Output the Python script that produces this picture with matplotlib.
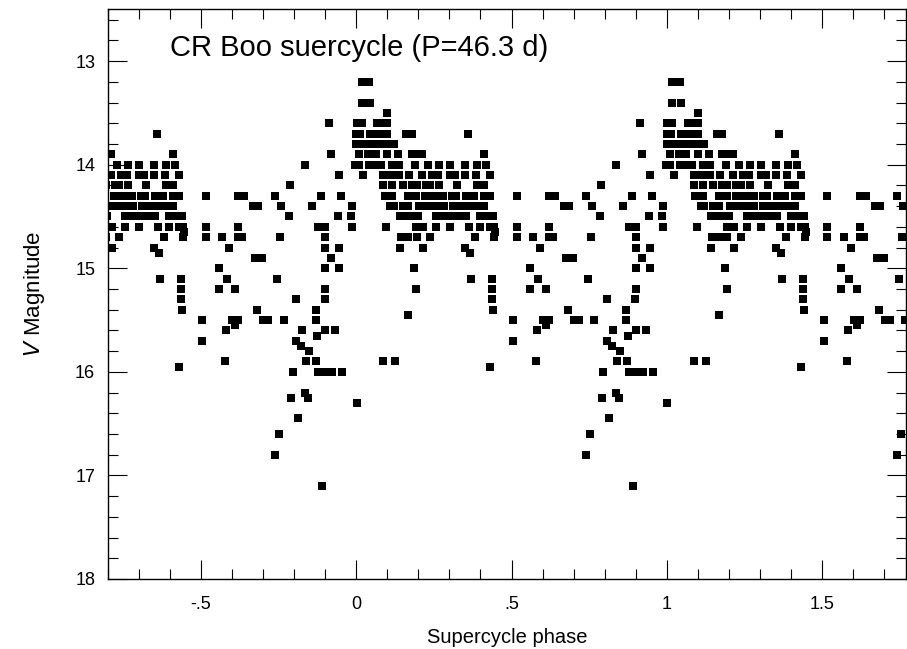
import numpy as np
import matplotlib
matplotlib.use("Agg")
import matplotlib.pyplot as plt
from matplotlib.ticker import MultipleLocator, FixedLocator

# ----------------------------
# Data: V magnitude vs supercycle phase (one cycle)
# each row = one magnitude level, with the phases observed at that level
# ----------------------------
row_mag = [13.2, 13.4, 13.5, 13.6, 13.7, 13.8, 13.9, 14.0, 14.1, 14.2,
           14.3, 14.4, 14.5, 14.6, 14.65, 14.7, 14.8, 14.85, 14.9, 15.0,
           15.1, 15.2, 15.3, 15.4, 15.45, 15.5, 15.55, 15.6, 15.65, 15.7,
           15.75, 15.8, 15.9, 15.95, 16.0, 16.2, 16.25, 16.3, 16.45, 16.6,
           16.8, 17.1]

row_phase = [
    [0.018, 0.041],                                              # 13.2
    [0.018, 0.044],                                              # 13.4
    [0.099],                                                     # 13.5
    [0.002, 0.018, 0.067, 0.083, 0.099, 0.914],                  # 13.6
    [-0.001, 0.012, 0.044, 0.060, 0.080, 0.099, 0.160, 0.179, 0.360],
    [-0.001, 0.015, 0.031, 0.047, 0.063, 0.080, 0.099, 0.121],  # 13.8
    [0.009, 0.038, 0.063, 0.099, 0.134, 0.179, 0.199, 0.212, 0.411, 0.920],
    [-0.004, 0.009, 0.041, 0.060, 0.080, 0.115, 0.138, 0.189, 0.231,
     0.266, 0.302, 0.350, 0.389, 0.418, 0.836],                  # 14.0
    [0.022, 0.086, 0.105, 0.125, 0.138, 0.170, 0.212, 0.244, 0.263,
     0.302, 0.318, 0.350, 0.386, 0.431, 0.946],                  # 14.1
    [0.086, 0.115, 0.150, 0.179, 0.195, 0.224, 0.237, 0.266, 0.324,
     0.389, 0.411, 0.788],                                       # 14.2
    [0.092, 0.115, 0.167, 0.192, 0.221, 0.241, 0.260, 0.279, 0.308,
     0.321, 0.353, 0.379, 0.411, 0.431, 0.517, 0.621, 0.640, 0.740,
     0.888, 0.952],                                              # 14.3
    [0.109, 0.121, 0.150, 0.167, 0.202, 0.221, 0.241, 0.260, 0.282,
     0.311, 0.331, 0.350, 0.369, 0.389, 0.411, 0.669, 0.685, 0.759,
     0.859, 0.988],                                              # 14.4
    [0.141, 0.157, 0.176, 0.199, 0.257, 0.276, 0.295, 0.318, 0.337,
     0.353, 0.398, 0.421, 0.440, 0.785, 0.943, 0.984],           # 14.5
    [0.096, 0.192, 0.215, 0.257, 0.302, 0.363, 0.398, 0.431, 0.443,
     0.517, 0.621, 0.878, 0.901, 0.988],                         # 14.6
    [0.447],                                                     # 14.65
    [0.144, 0.167, 0.195, 0.237, 0.382, 0.443, 0.517, 0.569, 0.621,
     0.634, 0.756, 0.901],                                       # 14.7
    [0.141, 0.215, 0.350, 0.592, 0.901, 0.946],                  # 14.8
    [0.366],                                                     # 14.85
    [0.675, 0.698, 0.920],                                       # 14.9
    [0.186, 0.559, 0.901, 0.946],                                # 15.0
    [0.369, 0.437, 0.585, 0.746],                                # 15.1
    [0.192, 0.437, 0.559, 0.611, 0.901],                         # 15.2
    [0.437, 0.807, 0.898],                                       # 15.3
    [0.440, 0.682, 0.869],                                       # 15.4
    [0.167],                                                     # 15.45
    [0.505, 0.601, 0.621, 0.701, 0.717, 0.766, 0.869],           # 15.5
    [0.611],                                                     # 15.55
    [0.582, 0.827, 0.901, 0.933],                                # 15.6
    [0.875],                                                     # 15.65
    [0.505, 0.807],                                              # 15.7
    [0.823],                                                     # 15.75
    [0.849],                                                     # 15.8
    [0.086, 0.125, 0.579, 0.840, 0.872],                         # 15.9
    [0.431],                                                     # 15.95
    [0.795, 0.878, 0.898, 0.923, 0.955],                         # 16.0
    [0.836],                                                     # 16.2
    [0.791, 0.846],                                              # 16.25
    [0.002],                                                     # 16.3
    [0.814],                                                     # 16.45
    [0.753],                                                     # 16.6
    [0.740],                                                     # 16.8
    [0.891],                                                     # 17.1
]

xtick_vals = [-0.5, 0.0, 0.5, 1.0, 1.5]
xtick_labels = ["-.5", "0", ".5", "1", "1.5"]
ytick_vals = [13, 14, 15, 16, 17, 18]

phase = np.concatenate([np.array(p) for p in row_phase])
vmag = np.concatenate([[m] * len(p) for m, p in zip(row_mag, row_phase)])

# ----------------------------
# Plot
# ----------------------------
plt.rcParams['font.family'] = ['Liberation Sans', 'DejaVu Sans']

fig = plt.figure(figsize=(9.07, 6.49), dpi=100)
ax = fig.add_axes([0.1187, 0.1079, 0.8803, 0.8778])

# the cycle is repeated one phase unit to each side
for shift in (-1, 0, 1):
    ax.plot(phase + shift, vmag, 's', color='black', ms=5.7, mew=0)

ax.set_xlim(-0.8, 1.77)
ax.set_ylim(18, 12.5)

ax.xaxis.set_major_locator(FixedLocator(xtick_vals))
ax.set_xticklabels(xtick_labels)
ax.xaxis.set_minor_locator(MultipleLocator(0.1))
ax.yaxis.set_major_locator(FixedLocator(ytick_vals))
ax.yaxis.set_minor_locator(MultipleLocator(0.2))

ax.tick_params(which='both', direction='in', top=True, right=True,
               width=0.8, labelsize=13)
ax.tick_params(which='major', length=14)
ax.tick_params(which='minor', length=7)
ax.tick_params(axis='x', which='major', pad=12)
ax.tick_params(axis='y', which='major', pad=9)
for s in ax.spines.values():
    s.set_linewidth(1.0)

ax.set_xlabel("Supercycle phase", fontsize=14.5, labelpad=11)
ax.set_ylabel(r"$V$ Magnitude", fontsize=16, labelpad=20)

ax.text(0.078, 0.932, "CR Boo suercycle (P=46.3 d)", transform=ax.transAxes,
        fontsize=21, ha='left', va='center')

fig.savefig("out.png", dpi=100)
